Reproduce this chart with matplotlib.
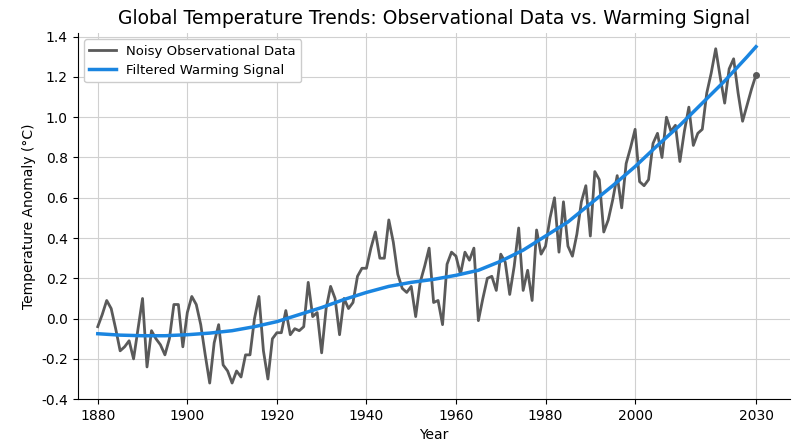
import numpy as np
import matplotlib
matplotlib.use("Agg")
import matplotlib.pyplot as plt

# noisy observations, one per year 1880..2027
obs_years = list(range(1880, 2028))
obs_values = [
    -0.04, 0.02, 0.09, 0.05, -0.05, -0.16, -0.14, -0.11, -0.20, -0.05,
    0.10, -0.24, -0.06, -0.10, -0.13, -0.18, -0.10, 0.07, 0.07, -0.14,
    0.03, 0.11, 0.07, -0.03, -0.18, -0.32, -0.12, -0.03, -0.23, -0.26,
    -0.32, -0.26, -0.29, -0.18, -0.18, 0.00, 0.11, -0.16, -0.30, -0.10,
    -0.07, -0.07, 0.04, -0.08, -0.05, -0.06, -0.04, 0.18, 0.01, 0.03,
    -0.17, 0.05, 0.16, 0.10, -0.08, 0.10, 0.05, 0.08, 0.21, 0.25,
    0.25, 0.35, 0.43, 0.30, 0.30, 0.49, 0.38, 0.22, 0.15, 0.13,
    0.16, 0.01, 0.18, 0.26, 0.35, 0.08, 0.09, -0.03, 0.27, 0.33,
    0.31, 0.22, 0.33, 0.29, 0.35, -0.01, 0.10, 0.20, 0.21, 0.14,
    0.32, 0.28, 0.12, 0.26, 0.45, 0.14, 0.24, 0.09, 0.44, 0.32,
    0.36, 0.50, 0.60, 0.33, 0.58, 0.36, 0.31, 0.42, 0.58, 0.66,
    0.41, 0.73, 0.69, 0.43, 0.49, 0.59, 0.71, 0.55, 0.77, 0.85,
    0.94, 0.68, 0.66, 0.69, 0.87, 0.92, 0.80, 1.00, 0.93, 0.96,
    0.78, 0.93, 1.05, 0.86, 0.92, 0.94, 1.12, 1.22, 1.34, 1.20,
    1.07, 1.24, 1.29, 1.12, 0.98, 1.06, 1.14, 1.21,
]

# filtered warming signal
sig_years = [1880, 1885, 1890, 1895, 1900, 1905, 1910, 1915, 1920, 1925,
             1930, 1935, 1940, 1945, 1950, 1955, 1960, 1965, 1970, 1975,
             1980, 1985, 1990, 1995, 2000, 2005, 2010, 2015, 2020, 2025, 2027]
sig_values = [-0.075, -0.082, -0.085, -0.085, -0.08, -0.072, -0.06, -0.04, -0.015, 0.02,
              0.055, 0.095, 0.13, 0.16, 0.18, 0.195, 0.215, 0.24, 0.285, 0.34,
              0.41, 0.48, 0.57, 0.66, 0.755, 0.86, 0.96, 1.07, 1.18, 1.30, 1.35]

tick_pos = [1880, 1900, 1920, 1940, 1960, 1980, 2000, 2027]
tick_labels = ["1880", "1900", "1920", "1940", "1960", "1980", "2000", "2030"]

fig = plt.figure(figsize=(8, 4.47), dpi=100)
ax = fig.add_axes([0.097, 0.107, 0.89, 0.82])

ax.plot(obs_years, obs_values, color="#5a5a5a", lw=2, label="Noisy Observational Data")
ax.plot(obs_years[-1], obs_values[-1], "o", color="#5a5a5a", ms=4)
ax.plot(sig_years, sig_values, color="#1a85e0", lw=2.5, label="Filtered Warming Signal")

ax.set_xlim(1875.5, 2034.5)
ax.set_ylim(-0.4, 1.42)
ax.set_xticks(tick_pos)
ax.set_xticklabels(tick_labels)
ax.set_yticks(np.arange(-0.4, 1.41, 0.2))
ax.set_yticklabels([f"{v:.1f}" for v in np.arange(-0.4, 1.41, 0.2)])
ax.tick_params(labelsize=10)
ax.grid(True, color="#d0d0d0", lw=0.8)
ax.spines["top"].set_visible(False)
ax.spines["right"].set_visible(False)

ax.set_xlabel("Year", fontsize=10)
ax.set_ylabel("Temperature Anomaly (°C)", fontsize=10)
ax.set_title("Global Temperature Trends: Observational Data vs. Warming Signal", fontsize=13.5)
ax.legend(loc="upper left", fontsize=9.5, framealpha=1, edgecolor="#cccccc")

fig.savefig("out.png")
